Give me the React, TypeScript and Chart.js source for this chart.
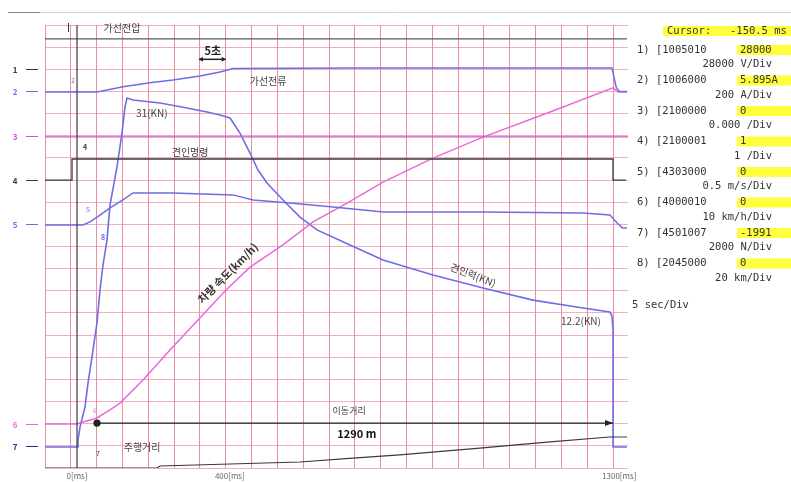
import React, { useEffect, useRef } from 'react';
import { Chart, registerables } from 'chart.js';
Chart.register(...registerables);

// ---- axes (time in s, 5 s per division; vertical in divisions) ----
const xGridValues = [0, 5, 10, 15, 20, 25, 30, 35, 40, 45, 50, 55, 60, 65, 70, 75, 80, 85, 90, 95, 100, 105, 110];
const X_MAX = 112.9;
const Y_MAX = 20;
const bottomTickLabels = ['0[ms]', '400[ms]', '1300[ms]'];
const bottomTickTimes = [6.2, 35.8, 111.2];

// ---- traces ----
const voltT = [0, 112.7];
const voltY = [19.37, 19.37];

const currentT = [0, 10.07, 15.1, 20.33, 24.79, 30.0, 33.9, 36.4, 60, 90, 109.8, 110.6, 111.2, 112.7];
const currentY = [16.98, 16.98, 17.21, 17.39, 17.52, 17.7, 17.88, 18.04, 18.06, 18.06, 18.06, 17.2, 17.0, 17.0];

const ch3T = [0, 112.9];
const ch3Y = [14.95, 14.95];

const commandT = [0, 5.23, 5.23, 110, 110, 112.5];
const commandY = [13.0, 13.0, 13.95, 13.95, 13.0, 13.0];

const accelT = [0, 7.36, 8.71, 10.65, 12.59, 15.1, 17.04, 24.79, 36.4, 40.3, 47.4, 55.8, 65.5, 84.8, 104.2, 109.4, 110.8, 111.8, 112.7];
const accelY = [10.97, 10.97, 11.11, 11.42, 11.74, 12.1, 12.42, 12.42, 12.33, 12.1, 11.96, 11.78, 11.56, 11.56, 11.51, 11.42, 11.06, 10.84, 10.84];

const forceT = [0, 6.2, 6.39, 6.78, 7.75, 8.33, 9.1, 10.07, 10.65, 11.23, 12.0, 12.59, 13.94, 14.91, 15.49, 15.88, 17.04, 22.27, 27.5, 31.37, 33.89, 35.83, 37.76, 39.7, 41.25, 42.99, 46.09, 49.38, 52.67, 59.06, 65.45, 75.14, 84.82, 94.5, 104.18, 109.41, 109.8, 110.0, 110.0, 112.7];
const forceY = [0.95, 0.95, 1.26, 1.85, 2.75, 3.84, 5.01, 6.55, 8.04, 9.16, 10.29, 11.87, 13.59, 15.12, 16.3, 16.7, 16.61, 16.48, 16.25, 16.07, 15.94, 15.8, 15.12, 14.22, 13.45, 12.87, 12.1, 11.33, 10.75, 10.07, 9.39, 8.71, 8.13, 7.58, 7.22, 7.04, 6.86, 6.23, 0.95, 0.95];

const speedT = [0, 6.2, 7.36, 10.07, 12.59, 14.52, 18.98, 24.2, 30.0, 34.86, 39.7, 46.09, 51.9, 58.5, 65.45, 75.14, 84.82, 97.8, 110.0, 111.0, 112.7];
const speedY = [1.99, 1.99, 2.08, 2.26, 2.62, 2.93, 3.97, 5.33, 6.77, 7.99, 9.07, 10.07, 11.11, 11.96, 12.91, 13.99, 14.94, 16.07, 17.16, 16.98, 16.98];

const distT = [0, 21.69, 22.27, 49.38, 59.6, 68.7, 84.2, 97.2, 109.4, 112.7];
const distY = [0, 0, 0.09, 0.27, 0.45, 0.59, 0.9, 1.17, 1.4, 1.4];

const triggerT = [6.2, 6.2];
const triggerY = [0, 20];

const arrowT = [10.07, 110];
const arrowY = [2.03, 2.03];

// ---- right panel ----
const cursorLabel = 'Cursor:';
const cursorValue = '-150.5 ms';
const chHeaders = ['1) [1005010', '2) [1006000', '3) [2100000', '4) [2100001', '5) [4303000', '6) [4000010', '7) [4501007', '8) [2045000'];
const chValues = ['28000', '5.895A', '0', '1', '0', '0', '-1991', '0'];
const chScales = ['28000 V/Div', '200 A/Div', '0.000 /Div', '1 /Div', '0.5 m/s/Div', '10 km/h/Div', '2000 N/Div', '20 km/Div'];
const timeBase = '5 sec/Div';

// ---- left channel markers ----
const markerNames = ['1', '2', '3', '4', '5', '6', '7'];
const markerLevels = [18, 17, 15, 13, 11, 2, 1];

const BLUE = 'rgb(112,108,232)';
const PINK = 'rgb(234,104,216)';
const MAGENTA = 'rgb(214,78,214)';
const DARK = '#3a3a3a';
const NAVY = '#2a2a80';
const markerColors = [DARK, BLUE, MAGENTA, DARK, BLUE, PINK, NAVY];

const KR = '"Noto Sans CJK KR", sans-serif';

type Lbl = { text: string; t: number; v: number; color: string; size: number; bold?: boolean; rot?: number };
const labels: Lbl[] = [
  { text: '가선전압', t: 14.9, v: 19.86, color: '#444', size: 10 },
  { text: '5초', t: 32.5, v: 18.85, color: '#222', size: 11, bold: true },
  { text: '가선전류', t: 43.2, v: 17.47, color: '#444', size: 10 },
  { text: '31(KN)', t: 20.7, v: 16.03, color: '#444', size: 10 },
  { text: '견인명령', t: 28.1, v: 14.27, color: '#444', size: 10 },
  { text: '차량 속도(km/h)', t: 35.4, v: 8.8, color: '#333', size: 11, bold: true, rot: -45 },
  { text: '견인력(KN)', t: 82.9, v: 8.71, color: '#444', size: 10, rot: 21 },
  { text: '12.2(KN)', t: 103.8, v: 6.64, color: '#444', size: 10 },
  { text: '이동거리', t: 58.9, v: 2.6, color: '#444', size: 9 },
  { text: '1290 m', t: 60.4, v: 1.53, color: '#111', size: 11, bold: true },
  { text: '주행거리', t: 18.8, v: 0.95, color: '#444', size: 10 },
  { text: '2', t: 5.42, v: 17.52, color: BLUE, size: 7 },
  { text: '4', t: 7.75, v: 14.49, color: DARK, size: 7, bold: true },
  { text: '5', t: 8.33, v: 11.69, color: BLUE, size: 7 },
  { text: '8', t: 11.23, v: 10.43, color: BLUE, size: 7, bold: true },
  { text: '6', t: 9.68, v: 2.62, color: PINK, size: 7 },
  { text: '7', t: 10.26, v: 0.68, color: DARK, size: 7 },
];

const pts = (t: number[], y: number[]) => t.map((x, i) => ({ x, y: y[i] }));

const overlay = {
  id: 'overlay',
  afterDraw(chart: any) {
    const ctx: CanvasRenderingContext2D = chart.ctx;
    const xs = chart.scales.x;
    const ys = chart.scales.y;
    const px = (t: number) => xs.getPixelForValue(t);
    const py = (v: number) => ys.getPixelForValue(v);
    ctx.save();

    // top window rule
    ctx.strokeStyle = '#d4d4d4';
    ctx.lineWidth = 1;
    ctx.beginPath();
    ctx.moveTo(8, 12.5);
    ctx.lineTo(791, 12.5);
    ctx.stroke();
    ctx.strokeStyle = '#888';
    ctx.beginPath();
    ctx.moveTo(8, 12.5);
    ctx.lineTo(40, 12.5);
    ctx.stroke();

    // "+" marker at top
    ctx.strokeStyle = DARK;
    ctx.beginPath();
    ctx.moveTo(68.5, 23);
    ctx.lineTo(68.5, 32);
    ctx.stroke();

    // arrow head for travel distance
    const ax = px(arrowT[1]);
    const ay = py(arrowY[1]);
    ctx.fillStyle = '#222';
    ctx.beginPath();
    ctx.moveTo(ax, ay);
    ctx.lineTo(ax - 8, ay - 3);
    ctx.lineTo(ax - 8, ay + 3);
    ctx.closePath();
    ctx.fill();

    // 5초 double arrow
    const y5 = py(18.45);
    const xa = px(29.8);
    const xb = px(35.0);
    ctx.strokeStyle = '#222';
    ctx.lineWidth = 1.5;
    ctx.beginPath();
    ctx.moveTo(xa, y5);
    ctx.lineTo(xb, y5);
    ctx.stroke();
    ctx.beginPath();
    ctx.moveTo(xa, y5); ctx.lineTo(xa + 4, y5 - 2.5); ctx.lineTo(xa + 4, y5 + 2.5); ctx.closePath();
    ctx.moveTo(xb, y5); ctx.lineTo(xb - 4, y5 - 2.5); ctx.lineTo(xb - 4, y5 + 2.5); ctx.closePath();
    ctx.fill();
    ctx.lineWidth = 1;

    // in-plot labels
    ctx.textAlign = 'center';
    ctx.textBaseline = 'middle';
    for (const l of labels) {
      ctx.font = `${l.bold ? 'bold ' : ''}${l.size}px ${KR}`;
      ctx.fillStyle = l.color;
      ctx.save();
      ctx.translate(px(l.t), py(l.v));
      if (l.rot) ctx.rotate((l.rot * Math.PI) / 180);
      ctx.fillText(l.text, 0, 0);
      ctx.restore();
    }

    // left channel markers
    ctx.font = `bold 8px ${KR}`;
    markerNames.forEach((n, i) => {
      const y = Math.round(py(markerLevels[i])) + 0.5;
      ctx.fillStyle = markerColors[i];
      ctx.strokeStyle = markerColors[i];
      ctx.fillText(n, 15, y);
      ctx.beginPath();
      ctx.moveTo(26, y);
      ctx.lineTo(38, y);
      ctx.stroke();
    });

    // bottom tick labels
    ctx.font = `8px ${KR}`;
    ctx.fillStyle = '#666';
    bottomTickLabels.forEach((s, i) => {
      ctx.fillText(s, px(bottomTickTimes[i]), 476);
    });

    // right panel
    const mono = '10.5px "DejaVu Sans Mono", monospace';
    ctx.font = mono;
    ctx.textBaseline = 'middle';
    ctx.fillStyle = 'rgb(255,255,60)';
    ctx.fillRect(663, 26, 128, 10);
    ctx.fillStyle = '#333';
    ctx.textAlign = 'left';
    ctx.fillText(cursorLabel, 667, 31);
    ctx.fillText(cursorValue, 730, 31);
    chHeaders.forEach((h, i) => {
      const y = 50 + i * 30.5;
      ctx.fillStyle = 'rgb(255,255,60)';
      ctx.fillRect(737, y - 5, 54, 10);
      ctx.fillStyle = '#333';
      ctx.textAlign = 'left';
      ctx.fillText(h, 637, y);
      ctx.fillText(chValues[i], 740, y);
      ctx.textAlign = 'right';
      ctx.fillText(chScales[i], 772, y + 14.5);
    });
    ctx.textAlign = 'left';
    ctx.fillText(timeBase, 632, 305);

    ctx.restore();
  },
};

export default function App() {
  const ref = useRef<HTMLCanvasElement | null>(null);
  useEffect(() => {
    if (!ref.current) return;
    const ds = (data: any, color: string, width = 1.4, extra: any = {}) => ({
      data,
      borderColor: color,
      backgroundColor: color,
      borderWidth: width,
      pointRadius: 0,
      tension: 0,
      fill: false,
      ...extra,
    });
    const chart = new Chart(ref.current, {
      type: 'line',
      data: {
        datasets: [
          ds(pts(distT, distY), DARK, 1.2),
          ds(pts(arrowT, arrowY), '#222', 1.3, { pointRadius: [3, 0], pointBackgroundColor: '#222' }),
          ds(pts(triggerT, triggerY), DARK, 1.2),
          ds(pts(voltT, voltY), '#5a5a5a', 1.3),
          ds(pts(ch3T, ch3Y), MAGENTA, 1.3),
          ds(pts(commandT, commandY), DARK, 1.3),
          ds(pts(currentT, currentY), BLUE, 1.5),
          ds(pts(accelT, accelY), BLUE, 1.5),
          ds(pts(speedT, speedY), PINK, 1.5),
          ds(pts(forceT, forceY), BLUE, 1.6),
        ],
      },
      options: {
        responsive: false,
        animation: false,
        devicePixelRatio: 1,
        layout: { padding: { left: 45, top: 25, right: 163, bottom: 14 } },
        plugins: { legend: { display: false }, tooltip: { enabled: false } },
        scales: {
          x: {
            type: 'linear',
            min: 0,
            max: X_MAX,
            ticks: { display: false },
            border: { display: false },
            grid: { color: 'rgba(226,104,136,0.75)', drawTicks: false, lineWidth: 1 },
            afterBuildTicks: (ax: any) => {
              ax.ticks = xGridValues.map((v) => ({ value: v }));
            },
          },
          y: {
            type: 'linear',
            min: 0,
            max: Y_MAX,
            ticks: { display: false, stepSize: 1 },
            border: { display: false },
            grid: { color: 'rgba(236,140,166,0.7)', drawTicks: false, lineWidth: 1 },
          },
        },
      } as any,
      plugins: [overlay],
    } as any);
    return () => chart.destroy();
  }, []);
  return (
    <div style={{ position: 'absolute', left: 0, top: 0, width: 791, height: 482, background: '#fff' }}>
      <canvas ref={ref} width={791} height={482} style={{ display: 'block' }} />
    </div>
  );
}
